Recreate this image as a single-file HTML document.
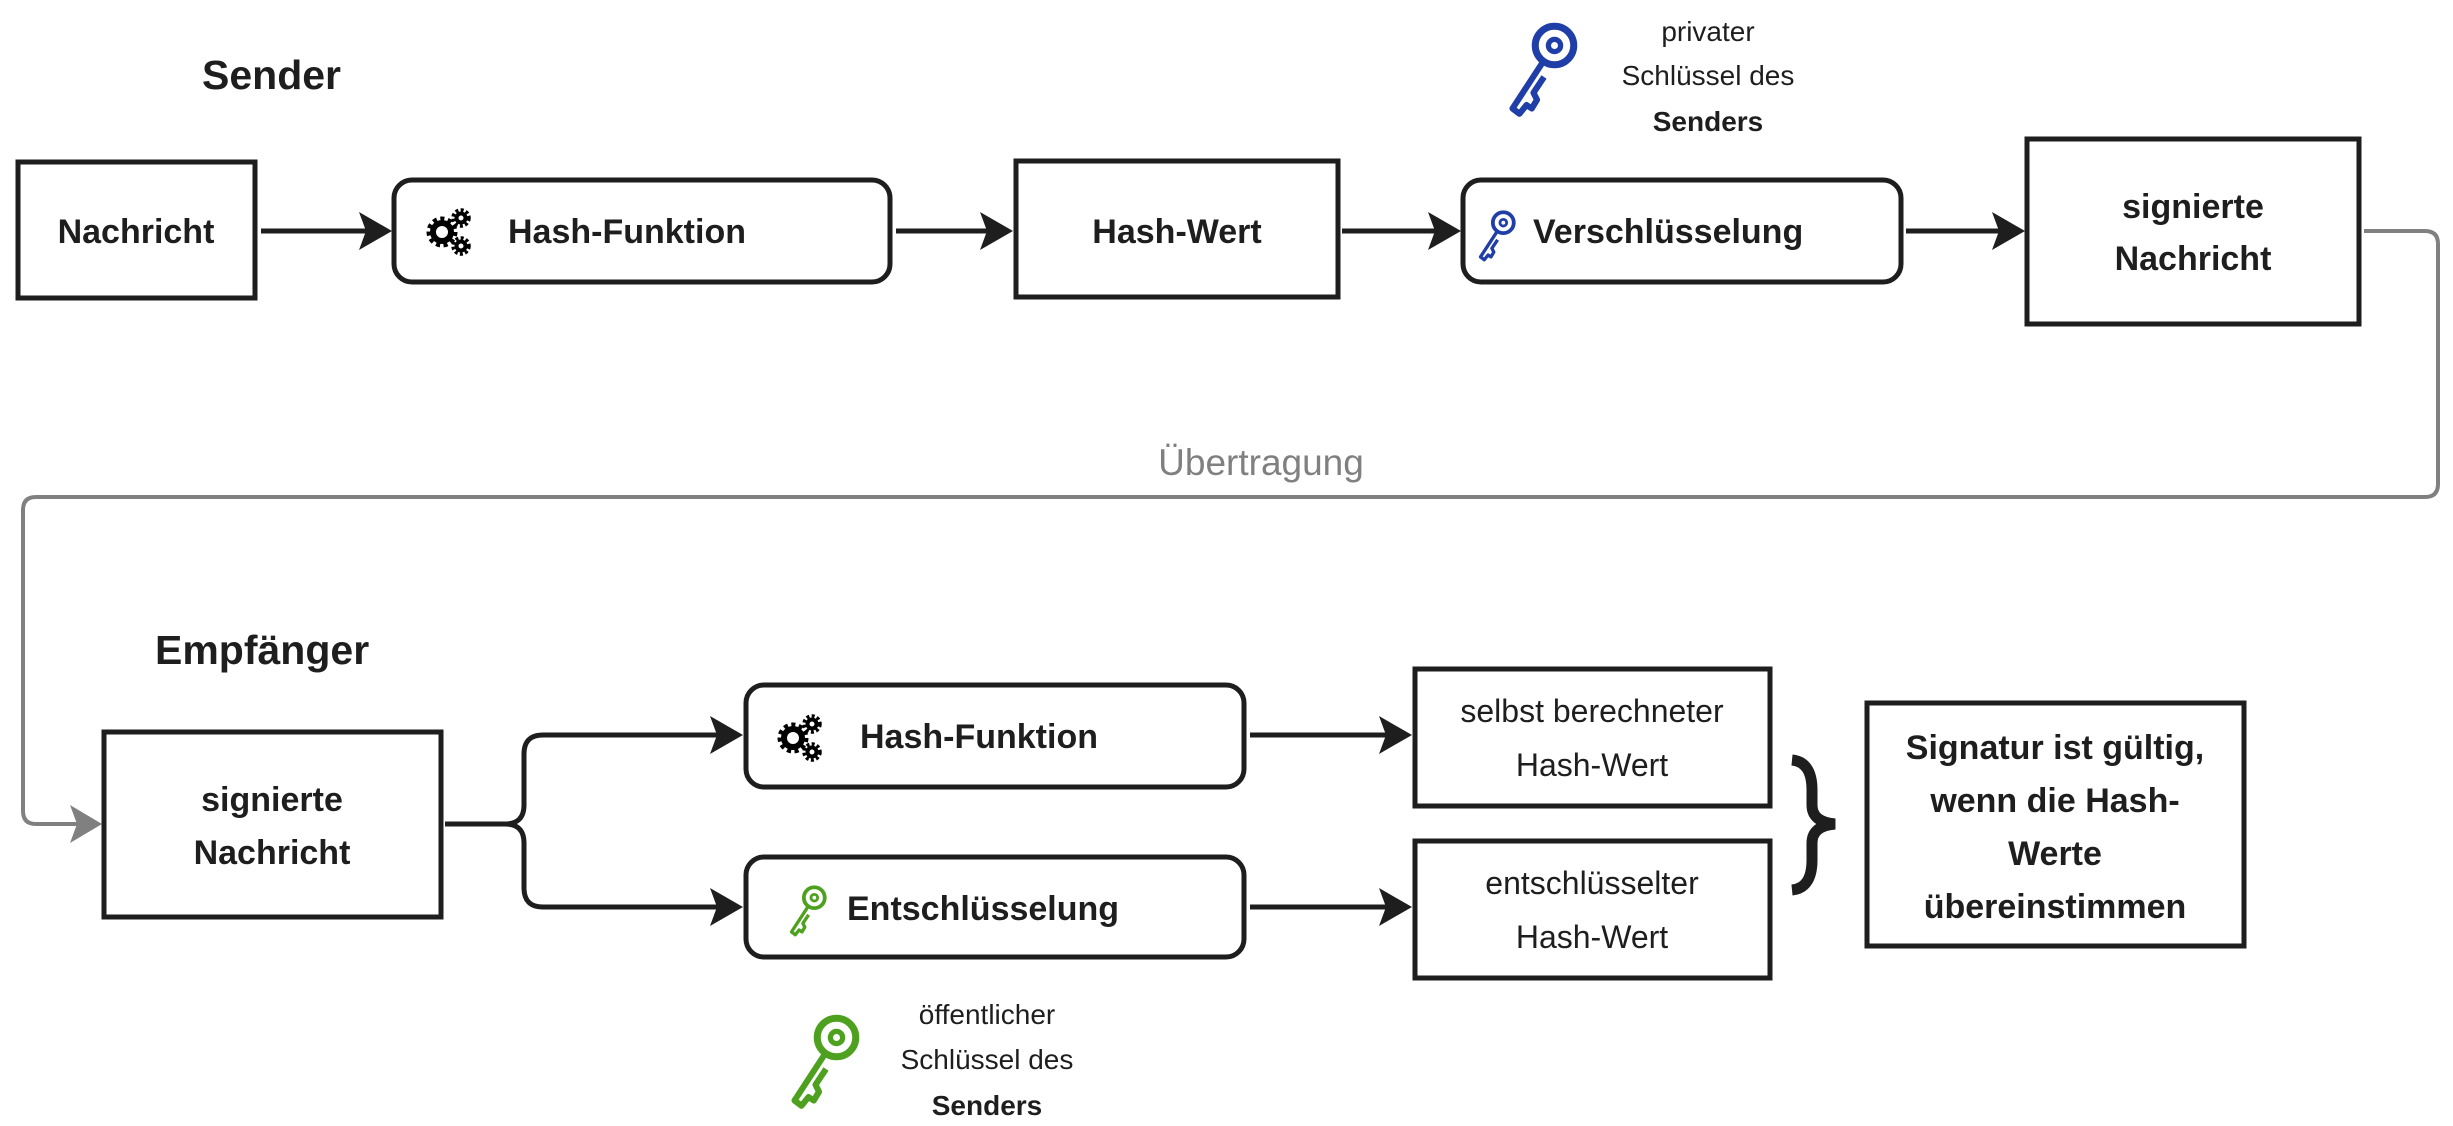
<!DOCTYPE html>
<html><head><meta charset="utf-8"><style>
html,body{margin:0;padding:0;background:#fff}
svg{display:block}
text{font-family:"Liberation Sans",sans-serif;fill:#1e1e1e}
.b{font-weight:bold}
</style></head><body>
<svg width="2453" height="1126" viewBox="0 0 2453 1126" xmlns="http://www.w3.org/2000/svg">
<defs>
<marker id="ah" markerWidth="10" markerHeight="10" refX="8" refY="5" orient="auto" markerUnits="userSpaceOnUse" viewBox="0 0 10 10">
</marker>
<g id="gears">
 <circle cx="0" cy="4" r="9" fill="none" stroke="#000" stroke-width="6"/>
 <circle cx="0" cy="4" r="13" fill="none" stroke="#000" stroke-width="5" stroke-dasharray="4 3.4"/>
 <circle cx="19" cy="-10" r="4.5" fill="none" stroke="#000" stroke-width="4"/>
 <circle cx="19" cy="-10" r="8" fill="none" stroke="#000" stroke-width="3.5" stroke-dasharray="3 2.3"/>
 <circle cx="19" cy="18" r="4.5" fill="none" stroke="#000" stroke-width="4"/>
 <circle cx="19" cy="18" r="8" fill="none" stroke="#000" stroke-width="3.5" stroke-dasharray="3 2.3"/>
</g>
<g id="key">
 <circle cx="14" cy="-14" r="11" fill="none" stroke-width="4"/>
 <circle cx="14" cy="-14" r="3.5" fill="none" stroke-width="3"/>
 <path d="M7 -4 L-10 22 L-6 25 L-2 20 L1 22 L4 17 L2 13 L8 4" fill="none" stroke-width="3.5" stroke-linejoin="round"/>
</g>
</defs>

<!-- Titles -->
<text x="202" y="89" class="b" font-size="41">Sender</text>
<text x="155" y="664" class="b" font-size="41">Empfänger</text>

<!-- Sender row -->
<rect x="18" y="162" width="237" height="136" fill="#fff" stroke="#1e1e1e" stroke-width="5"/>
<text x="136" y="243" class="b" font-size="34" text-anchor="middle">Nachricht</text>

<rect x="394" y="180" width="496" height="102" rx="18" fill="#fff" stroke="#1e1e1e" stroke-width="5"/>
<use href="#gears" transform="translate(442,228) scale(1)"/>
<text x="508" y="243" class="b" font-size="34">Hash-Funktion</text>

<rect x="1016" y="161" width="322" height="136" fill="#fff" stroke="#1e1e1e" stroke-width="5"/>
<text x="1177" y="243" class="b" font-size="34" text-anchor="middle">Hash-Wert</text>

<rect x="1463" y="180" width="438" height="102" rx="18" fill="#fff" stroke="#1e1e1e" stroke-width="5"/>
<use href="#key" stroke="#1f3ea8" transform="translate(1490,236) scale(0.95)"/>
<text x="1533" y="243" class="b" font-size="34">Verschlüsselung</text>

<rect x="2027" y="139" width="332" height="185" fill="#fff" stroke="#1e1e1e" stroke-width="5"/>
<text x="2193" y="218" class="b" font-size="34" text-anchor="middle">signierte</text>
<text x="2193" y="270" class="b" font-size="34" text-anchor="middle">Nachricht</text>

<!-- private key -->
<use href="#key" stroke="#1f3ea8" transform="translate(1530,70) scale(1.75)"/>
<text x="1708" y="41" font-size="28" text-anchor="middle">privater</text>
<text x="1708" y="85" font-size="28" text-anchor="middle">Schlüssel des</text>
<text x="1708" y="131" class="b" font-size="28" text-anchor="middle">Senders</text>

<!-- sender arrows -->
<g stroke="#1e1e1e" stroke-width="5" fill="none">
 <line x1="261" y1="231" x2="380" y2="231"/>
 <line x1="896" y1="231" x2="1000" y2="231"/>
 <line x1="1342" y1="231" x2="1448" y2="231"/>
 <line x1="1906" y1="231" x2="2012" y2="231"/>
</g>
<g fill="#1e1e1e">
 <path d="M359 212 L392 231 L359 250 L366 231 Z"/>
 <path d="M980 212 L1013 231 L980 250 L987 231 Z"/>
 <path d="M1428 212 L1461 231 L1428 250 L1435 231 Z"/>
 <path d="M1992 212 L2025 231 L1992 250 L1999 231 Z"/>
</g>

<!-- transmission connector -->
<path d="M2364 231 H2425 Q2438 231 2438 244 V484 Q2438 497 2425 497 H36 Q23 497 23 510 V811 Q23 824 36 824 H85" fill="none" stroke="#808080" stroke-width="4"/>
<path d="M70 805 L102 824 L70 843 L77 824 Z" fill="#808080"/>
<text x="1261" y="475" font-size="37" text-anchor="middle" style="fill:#808080">Übertragung</text>

<!-- receiver -->
<rect x="104" y="732" width="337" height="185" fill="#fff" stroke="#1e1e1e" stroke-width="5"/>
<text x="272" y="811" class="b" font-size="34" text-anchor="middle">signierte</text>
<text x="272" y="864" class="b" font-size="34" text-anchor="middle">Nachricht</text>

<path d="M445 824 H505 Q524 824 524 805 V754 Q524 735 543 735 H728" fill="none" stroke="#1e1e1e" stroke-width="5"/>
<path d="M505 824 Q524 824 524 843 V888 Q524 907 543 907 H728" fill="none" stroke="#1e1e1e" stroke-width="5"/>
<path d="M710 716 L743 735 L710 754 L717 735 Z" fill="#1e1e1e"/>
<path d="M710 888 L743 907 L710 926 L717 907 Z" fill="#1e1e1e"/>

<rect x="746" y="685" width="498" height="102" rx="18" fill="#fff" stroke="#1e1e1e" stroke-width="5"/>
<use href="#gears" transform="translate(793,734)"/>
<text x="860" y="748" class="b" font-size="34">Hash-Funktion</text>

<rect x="746" y="857" width="498" height="100" rx="18" fill="#fff" stroke="#1e1e1e" stroke-width="5"/>
<use href="#key" stroke="#4ea11f" transform="translate(801,911) scale(0.95)"/>
<text x="847" y="920" class="b" font-size="34">Entschlüsselung</text>

<g stroke="#1e1e1e" stroke-width="5">
 <line x1="1250" y1="735" x2="1395" y2="735"/>
 <line x1="1250" y1="907" x2="1395" y2="907"/>
</g>
<path d="M1379 716 L1412 735 L1379 754 L1386 735 Z" fill="#1e1e1e"/>
<path d="M1379 888 L1412 907 L1379 926 L1386 907 Z" fill="#1e1e1e"/>

<rect x="1415" y="669" width="355" height="137" fill="#fff" stroke="#1e1e1e" stroke-width="5"/>
<text x="1592" y="722" font-size="32" text-anchor="middle">selbst berechneter</text>
<text x="1592" y="776" font-size="32" text-anchor="middle">Hash-Wert</text>

<rect x="1415" y="841" width="355" height="137" fill="#fff" stroke="#1e1e1e" stroke-width="5"/>
<text x="1592" y="894" font-size="32" text-anchor="middle">entschlüsselter</text>
<text x="1592" y="948" font-size="32" text-anchor="middle">Hash-Wert</text>

<!-- brace -->
<path d="M1792 760 Q1812 762 1812 790 V805 Q1812 822 1835 824 Q1812 826 1812 843 V860 Q1812 888 1792 890" fill="none" stroke="#1e1e1e" stroke-width="11"/>

<rect x="1867" y="703" width="377" height="243" fill="#fff" stroke="#1e1e1e" stroke-width="5"/>
<text x="2055" y="759" class="b" font-size="34" text-anchor="middle">Signatur ist gültig,</text>
<text x="2055" y="812" class="b" font-size="34" text-anchor="middle">wenn die Hash-</text>
<text x="2055" y="865" class="b" font-size="34" text-anchor="middle">Werte</text>
<text x="2055" y="918" class="b" font-size="34" text-anchor="middle">übereinstimmen</text>

<!-- public key -->
<use href="#key" stroke="#4ea11f" transform="translate(812,1062) scale(1.75)"/>
<text x="987" y="1024" font-size="28" text-anchor="middle">öffentlicher</text>
<text x="987" y="1069" font-size="28" text-anchor="middle">Schlüssel des</text>
<text x="987" y="1115" class="b" font-size="28" text-anchor="middle">Senders</text>
</svg>
</body></html>
